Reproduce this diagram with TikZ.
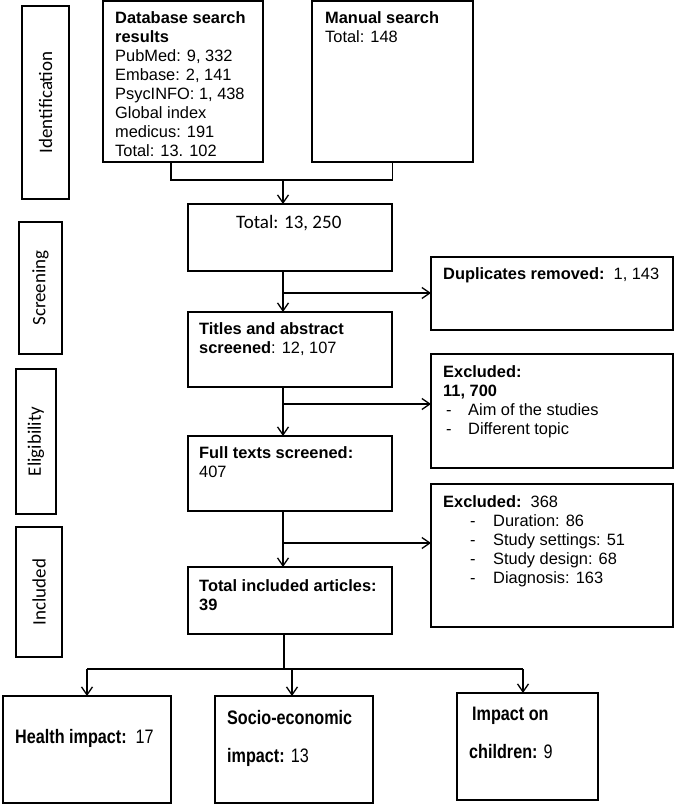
\documentclass[tikz,border=0pt]{standalone}
\usepackage{fontspec}
\setmainfont{Liberation Sans}
\newfontfamily\calfont{Carlito}
\newfontfamily\narrowfont[FakeStretch=0.83]{Liberation Sans}
\usetikzlibrary{arrows.meta}
\begin{document}
\begin{tikzpicture}[x=1pt,y=-1pt,
  box/.style={draw=black, line width=1.3pt, fill=none, inner sep=0pt, outer sep=0pt},
  txt/.style={anchor=north west, inner sep=0pt, align=left, font=\fontsize{16.4}{19}\selectfont},
  lowtxt/.style={anchor=north west, inner sep=0pt, align=left, font=\narrowfont\fontsize{19.5}{38}\selectfont},
  side/.style={inner sep=0pt, rotate=90, font=\calfont\fontsize{19}{22}\selectfont},
  link/.style={line width=1.3pt},
  arr/.style={line width=1.3pt, -{Straight Barb[length=8pt,width=11pt]}}]
\useasboundingbox (0,0) rectangle (674,805);
\node [box, minimum width=47pt, minimum height=193pt] (lid) at (45.5,102.5) {};
\node [box, minimum width=43pt, minimum height=132pt] (lscr) at (40.5,288) {};
\node [box, minimum width=40pt, minimum height=145pt] (lelg) at (36,441.5) {};
\node [box, minimum width=46pt, minimum height=130pt] (linc) at (39,592) {};
\node [side] (tid) at (lid) {Identification};
\node [side] (tscr) at (lscr) {Screening};
\node [side] (telg) at (lelg) {Eligibility};
\node [side] (tinc) at (linc) {Included};
\node [box, minimum width=160pt, minimum height=161pt] (db) at (183,81.5) {};
\node [box, minimum width=161pt, minimum height=161pt] (man) at (392.5,81.5) {};
\node [box, minimum width=204pt, minimum height=67pt] (tot) at (290,237.5) {};
\node [box, minimum width=242pt, minimum height=73pt] (dup) at (552,293.5) {};
\node [box, minimum width=204pt, minimum height=75pt] (tit) at (290,349.5) {};
\node [box, minimum width=242pt, minimum height=114pt] (exa) at (552,411) {};
\node [box, minimum width=204pt, minimum height=75pt] (full) at (290,473.5) {};
\node [box, minimum width=242pt, minimum height=143pt] (exb) at (552,555.5) {};
\node [box, minimum width=204pt, minimum height=67pt] (inc) at (290,600.5) {};
\node [box, minimum width=168pt, minimum height=107pt] (hea) at (87,749.5) {};
\node [box, minimum width=158pt, minimum height=107pt] (soc) at (294,749.5) {};
\node [box, minimum width=141pt, minimum height=107pt] (chi) at (527.5,746.5) {};
\node [txt] (tdb) at (115,11) {\textbf{Database search}\\\textbf{results}\\PubMed: 9, 332\\Embase: 2, 141\\PsycINFO: 1, 438\\Global index\\medicus: 191\\Total: 13. 102};
\node [txt] (tman) at (325,11) {\textbf{Manual search}\\Total: 148};
\node [txt, font=\calfont\fontsize{19}{22}\selectfont] (ttot) at (236,215) {Total: 13, 250};
\node [txt] (tdup) at (443,267) {\textbf{Duplicates removed:}\ \ 1, 143};
\node [txt] (ttit) at (199,322) {\textbf{Titles and abstract}\\\textbf{screened}: 12, 107};
\node [txt] (texa) at (443,365) {\textbf{Excluded:}\\\textbf{11, 700}\\\hspace*{3pt}\makebox[22pt][l]{-}Aim of the studies\\\hspace*{3pt}\makebox[22pt][l]{-}Different topic};
\node [txt] (tfull) at (199,446) {\textbf{Full texts screened:}\\407};
\node [txt] (texb) at (443,495) {\textbf{Excluded:}\ \ 368\\\hspace*{27pt}\makebox[23pt][l]{-}Duration: 86\\\hspace*{27pt}\makebox[23pt][l]{-}Study settings: 51\\\hspace*{27pt}\makebox[23pt][l]{-}Study design: 68\\\hspace*{27pt}\makebox[23pt][l]{-}Diagnosis: 163};
\node [txt] (tinc) at (199,579) {\textbf{Total included articles:}\\\textbf{39}};
\node [lowtxt] (thea) at (15,729) {\textbf{Health impact:}\ \ 17};
\node [lowtxt] (tsoc) at (227,710) {\textbf{Socio-economic}\\\textbf{impact:} 13};
\node [lowtxt] (tchi) at (469,707) {\hspace*{3pt}\textbf{Impact on}\\\textbf{children:} 9};
\coordinate (trunk) at (283,0);
\coordinate (j1) at (283,180);
\coordinate (j2) at (283,293);
\coordinate (j3) at (283,404);
\coordinate (j4) at (283,543);
\coordinate (j5) at (284,669);
\draw [link] ([xshift=-12pt]db.south) |- (j1) -| (man.south);
\draw [arr] (j1) -- (tot.north -| j1);
\draw [arr] (tot.south -| trunk) -- (tit.north -| trunk);
\draw [arr] (j2) -- (j2 -| dup.west);
\draw [arr] (tit.south -| trunk) -- (full.north -| trunk);
\draw [arr] (j3) -- (j3 -| exa.west);
\draw [arr] (full.south -| trunk) -- (inc.north -| trunk);
\draw [arr] (j4) -- (j4 -| exb.west);
\draw [link] (inc.south -| j5) -- (j5);
\draw [link] (j5 -| hea.north) -- (j5 -| 523,0);
\draw [arr] (j5 -| hea.north) -- (hea.north);
\draw [arr] (j5 -| 292,0) -- (soc.north -| 292,0);
\draw [arr] (j5 -| 523,0) -- (chi.north -| 523,0);
\end{tikzpicture}
\end{document}
